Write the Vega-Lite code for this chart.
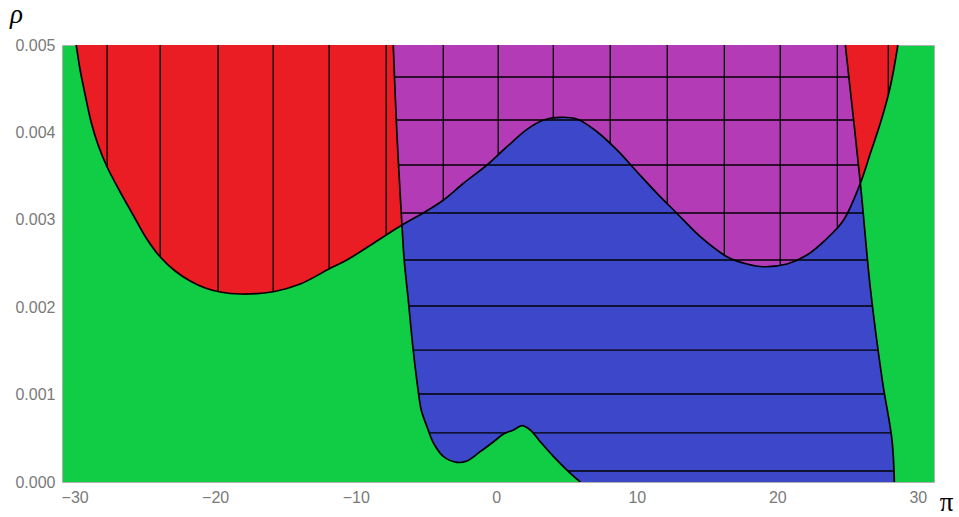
{
  "$schema": "https://vega.github.io/schema/vega-lite/v6.json",
  "width": 872,
  "height": 437,
  "autosize": {"type": "none"},
  "padding": {"left": 62, "top": 45, "right": 25, "bottom": 35},
  "background": "white",
  "config": {
    "view": {"fill": "#10cd45", "stroke": "#b0b0b0", "strokeWidth": 1},
    "axisX": {"labelFont": "Liberation Sans", "labelFontSize": 16, "labelColor": "#7a7a7a", "labelPadding": 7, "ticks": false, "domain": false, "grid": false, "titleFont": "Liberation Serif", "titleFontSize": 27, "titleFontWeight": "normal", "titleColor": "#000000", "titleX": 884, "titleY": 28, "titleAlign": "center", "titleBaseline": "alphabetic", "titleAngle": 0},
    "axisY": {"labelFont": "Liberation Sans", "labelFontSize": 16, "labelColor": "#7a7a7a", "labelPadding": 7, "ticks": false, "domain": false, "grid": false, "titleFont": "Liberation Serif", "titleFontSize": 27, "titleFontStyle": "italic", "titleFontWeight": "normal", "titleColor": "#000000", "titleX": -46, "titleY": -23, "titleAlign": "center", "titleBaseline": "alphabetic", "titleAngle": 0}
  },
  "datasets": {
    "hcurve": [
      {"x": -29.89, "rho": 0.005}, {"x": -29.61, "rho": 0.004714}, {"x": -29.25, "rho": 0.004428}, {"x": -28.83, "rho": 0.004119},
      {"x": -28.33, "rho": 0.003856}, {"x": -27.69, "rho": 0.003604}, {"x": -26.76, "rho": 0.003318}, {"x": -25.84, "rho": 0.003055},
      {"x": -24.91, "rho": 0.002792}, {"x": -23.91, "rho": 0.002574}, {"x": -22.85, "rho": 0.002414}, {"x": -21.78, "rho": 0.0023},
      {"x": -20.71, "rho": 0.00222}, {"x": -19.64, "rho": 0.002174}, {"x": -18.22, "rho": 0.002151}, {"x": -15.85, "rho": 0.002177},
      {"x": -13.95, "rho": 0.002265}, {"x": -11.81, "rho": 0.002445}, {"x": -10.63, "rho": 0.00254}, {"x": -8.7, "rho": 0.002735},
      {"x": -6.71, "rho": 0.002941}, {"x": -5.17, "rho": 0.003081}, {"x": -3.75, "rho": 0.003227},
      {"x": -2.33, "rho": 0.003418}, {"x": -0.66, "rho": 0.003627}, {"x": 0.76, "rho": 0.003836}, {"x": 2.19, "rho": 0.004035},
      {"x": 3.37, "rho": 0.004142}, {"x": 4.56, "rho": 0.004173}, {"x": 5.74, "rho": 0.004153}, {"x": 7.17, "rho": 0.004008},
      {"x": 8.59, "rho": 0.003799}, {"x": 10.01, "rho": 0.00355}, {"x": 11.44, "rho": 0.003303}, {"x": 12.86, "rho": 0.003074},
      {"x": 14.52, "rho": 0.002807}, {"x": 16.42, "rho": 0.002578}, {"x": 17.84, "rho": 0.002494}, {"x": 19.02, "rho": 0.002463},
      {"x": 20.69, "rho": 0.002494}, {"x": 22.11, "rho": 0.002597}, {"x": 23.54, "rho": 0.002788}, {"x": 24.72, "rho": 0.002998},
      {"x": 25.91, "rho": 0.003418}, {"x": 26.62, "rho": 0.003761}, {"x": 27.33, "rho": 0.004104}, {"x": 28.04, "rho": 0.004523},
      {"x": 28.58, "rho": 0.005}
    ],
    "leftb": [
      {"i": 1, "x": -7.33, "rho": 0.005}, {"i": 2, "x": -7.07, "rho": 0.00399}, {"i": 3, "x": -6.71, "rho": 0.002941},
      {"i": 4, "x": -6.55, "rho": 0.00254}, {"i": 5, "x": -6.26, "rho": 0.002082}, {"i": 6, "x": -5.91, "rho": 0.00151},
      {"i": 7, "x": -5.53, "rho": 0.001015}, {"i": 8, "x": -5.34, "rho": 0.000824}, {"i": 9, "x": -4.93, "rho": 0.000633},
      {"i": 10, "x": -4.46, "rho": 0.000443}, {"i": 11, "x": -3.75, "rho": 0.00029}, {"i": 12, "x": -2.8, "rho": 0.000225},
      {"i": 13, "x": -2.09, "rho": 0.00024}, {"i": 14, "x": -1.14, "rho": 0.000347}, {"i": 15, "x": -0.19, "rho": 0.000461},
      {"i": 16, "x": 0.52, "rho": 0.000549}, {"i": 17, "x": 1.23, "rho": 0.000595}, {"i": 18, "x": 1.83, "rho": 0.000645},
      {"i": 19, "x": 2.42, "rho": 0.000595}, {"i": 20, "x": 3.13, "rho": 0.000461}, {"i": 21, "x": 4.08, "rho": 0.00029},
      {"i": 22, "x": 5.03, "rho": 0.000137}, {"i": 23, "x": 5.98, "rho": 0}
    ],
    "rightb": [
      {"i": 1, "x": 24.84, "rho": 0.005}, {"i": 2, "x": 25.91, "rho": 0.003418}, {"i": 3, "x": 26.62, "rho": 0.00222},
      {"i": 4, "x": 27.47, "rho": 0.001167}, {"i": 5, "x": 28.16, "rho": 0.000481}, {"i": 6, "x": 28.33, "rho": 0}
    ],
    "bluepoly": [
      {"i": 1, "x": -7.33, "rho": 0.005}, {"i": 2, "x": -7.07, "rho": 0.00399}, {"i": 3, "x": -6.71, "rho": 0.002941},
      {"i": 4, "x": -6.55, "rho": 0.00254}, {"i": 5, "x": -6.26, "rho": 0.002082}, {"i": 6, "x": -5.91, "rho": 0.00151},
      {"i": 7, "x": -5.53, "rho": 0.001015}, {"i": 8, "x": -5.34, "rho": 0.000824}, {"i": 9, "x": -4.93, "rho": 0.000633},
      {"i": 10, "x": -4.46, "rho": 0.000443}, {"i": 11, "x": -3.75, "rho": 0.00029}, {"i": 12, "x": -2.8, "rho": 0.000225},
      {"i": 13, "x": -2.09, "rho": 0.00024}, {"i": 14, "x": -1.14, "rho": 0.000347}, {"i": 15, "x": -0.19, "rho": 0.000461},
      {"i": 16, "x": 0.52, "rho": 0.000549}, {"i": 17, "x": 1.23, "rho": 0.000595}, {"i": 18, "x": 1.83, "rho": 0.000645},
      {"i": 19, "x": 2.42, "rho": 0.000595}, {"i": 20, "x": 3.13, "rho": 0.000461}, {"i": 21, "x": 4.08, "rho": 0.00029},
      {"i": 22, "x": 5.03, "rho": 0.000137}, {"i": 23, "x": 5.98, "rho": 0}, {"i": 24, "x": 28.33, "rho": 0},
      {"i": 25, "x": 28.16, "rho": 0.000481}, {"i": 26, "x": 27.47, "rho": 0.001167}, {"i": 27, "x": 26.62, "rho": 0.00222},
      {"i": 28, "x": 25.91, "rho": 0.003418}, {"i": 29, "x": 24.84, "rho": 0.005}
    ],
    "purplepoly": [
      {"i": 1, "x": -7.33, "rho": 0.005}, {"i": 2, "x": -7.07, "rho": 0.00399}, {"i": 3, "x": -6.71, "rho": 0.002941},
      {"i": 4, "x": -5.17, "rho": 0.003081}, {"i": 5, "x": -3.75, "rho": 0.003227}, {"i": 6, "x": -2.33, "rho": 0.003418},
      {"i": 7, "x": -0.66, "rho": 0.003627}, {"i": 8, "x": 0.76, "rho": 0.003836}, {"i": 9, "x": 2.19, "rho": 0.004035},
      {"i": 10, "x": 3.37, "rho": 0.004142}, {"i": 11, "x": 4.56, "rho": 0.004173}, {"i": 12, "x": 5.74, "rho": 0.004153},
      {"i": 13, "x": 7.17, "rho": 0.004008}, {"i": 14, "x": 8.59, "rho": 0.003799}, {"i": 15, "x": 10.01, "rho": 0.00355},
      {"i": 16, "x": 11.44, "rho": 0.003303}, {"i": 17, "x": 12.86, "rho": 0.003074}, {"i": 18, "x": 14.52, "rho": 0.002807},
      {"i": 19, "x": 16.42, "rho": 0.002578}, {"i": 20, "x": 17.84, "rho": 0.002494}, {"i": 21, "x": 19.02, "rho": 0.002463},
      {"i": 22, "x": 20.69, "rho": 0.002494}, {"i": 23, "x": 22.11, "rho": 0.002597}, {"i": 24, "x": 23.54, "rho": 0.002788},
      {"i": 25, "x": 24.72, "rho": 0.002998}, {"i": 26, "x": 25.91, "rho": 0.003418}, {"i": 27, "x": 24.84, "rho": 0.005}
    ],
    "vmesh": [
      {"x": -27.69, "rho": 0.003604}, {"x": -23.91, "rho": 0.002574}, {"x": -19.79, "rho": 0.00218}, {"x": -15.87, "rho": 0.002177},
      {"x": -11.89, "rho": 0.002438}, {"x": -7.83, "rho": 0.002826}, {"x": -3.77, "rho": 0.003225}, {"x": 0.14, "rho": 0.003745},
      {"x": 4.06, "rho": 0.00416}, {"x": 8.11, "rho": 0.00387}, {"x": 12.17, "rho": 0.003185}, {"x": 16.23, "rho": 0.0026},
      {"x": 20.21, "rho": 0.002485}, {"x": 24.27, "rho": 0.002918}, {"x": 27.9, "rho": 0.00444}
    ],
    "hmesh": [
      {"rho": 0.004634, "x": -7.24, "x1": 25.09}, {"rho": 0.004142, "x": -7.11, "x1": 25.42},
      {"rho": 0.003627, "x": -6.95, "x1": 25.77}, {"rho": 0.003078, "x": -6.76, "x1": 26.11},
      {"rho": 0.00254, "x": -6.55, "x1": 26.43}, {"rho": 0.002014, "x": -6.22, "x1": 26.79},
      {"rho": 0.00151, "x": -5.91, "x1": 27.19}, {"rho": 0.001007, "x": -5.52, "x1": 27.63},
      {"rho": 0.000561, "x": -4.75, "x1": 0.76}, {"rho": 0.000561, "x": 2.6, "x1": 28.08},
      {"rho": 0.000126, "x": 5.11, "x1": 28.29}
    ]
  },
  "layer": [
    {
      "data": {"name": "hcurve"},
      "mark": {"type": "area", "color": "#ea1d25", "interpolate": "catmull-rom", "clip": true},
      "encoding": {
        "x": {"field": "x", "type": "quantitative", "title": "π", "scale": {"domain": [-30.9, 31.15], "nice": false, "zero": false}, "axis": {"values": [-30, -20, -10, 0, 10, 20, 30]}},
        "y": {"field": "rho", "type": "quantitative", "title": "ρ", "scale": {"domain": [0, 0.005], "nice": false}, "axis": {"values": [0, 0.001, 0.002, 0.003, 0.004, 0.005], "format": ".3f"}},
        "y2": {"datum": 0.005}
      }
    },
    {
      "data": {"name": "bluepoly"},
      "mark": {"type": "line", "filled": true, "color": "#3c47c9", "interpolate": "linear", "clip": true},
      "encoding": {
        "x": {"field": "x", "type": "quantitative", "title": "π", "scale": {"domain": [-30.9, 31.15], "nice": false, "zero": false}, "axis": {"values": [-30, -20, -10, 0, 10, 20, 30]}},
        "y": {"field": "rho", "type": "quantitative", "title": "ρ", "scale": {"domain": [0, 0.005], "nice": false}, "axis": {"values": [0, 0.001, 0.002, 0.003, 0.004, 0.005], "format": ".3f"}},
        "order": {"field": "i", "type": "quantitative"}
      }
    },
    {
      "data": {"name": "purplepoly"},
      "mark": {"type": "line", "filled": true, "color": "#b33bb5", "interpolate": "linear", "clip": true},
      "encoding": {
        "x": {"field": "x", "type": "quantitative", "title": "π", "scale": {"domain": [-30.9, 31.15], "nice": false, "zero": false}, "axis": {"values": [-30, -20, -10, 0, 10, 20, 30]}},
        "y": {"field": "rho", "type": "quantitative", "title": "ρ", "scale": {"domain": [0, 0.005], "nice": false}, "axis": {"values": [0, 0.001, 0.002, 0.003, 0.004, 0.005], "format": ".3f"}},
        "order": {"field": "i", "type": "quantitative"}
      }
    },
    {
      "data": {"name": "vmesh"},
      "mark": {"type": "rule", "color": "#000000", "strokeWidth": 1.3, "clip": true},
      "encoding": {
        "x": {"field": "x", "type": "quantitative", "title": "π", "scale": {"domain": [-30.9, 31.15], "nice": false, "zero": false}, "axis": {"values": [-30, -20, -10, 0, 10, 20, 30]}},
        "y": {"field": "rho", "type": "quantitative", "title": "ρ", "scale": {"domain": [0, 0.005], "nice": false}, "axis": {"values": [0, 0.001, 0.002, 0.003, 0.004, 0.005], "format": ".3f"}},
        "y2": {"datum": 0.005}
      }
    },
    {
      "data": {"name": "hmesh"},
      "mark": {"type": "rule", "color": "#000000", "strokeWidth": 1.3, "clip": true},
      "encoding": {
        "x": {"field": "x", "type": "quantitative", "title": "π", "scale": {"domain": [-30.9, 31.15], "nice": false, "zero": false}, "axis": {"values": [-30, -20, -10, 0, 10, 20, 30]}},
        "x2": {"field": "x1"},
        "y": {"field": "rho", "type": "quantitative", "title": "ρ", "scale": {"domain": [0, 0.005], "nice": false}, "axis": {"values": [0, 0.001, 0.002, 0.003, 0.004, 0.005], "format": ".3f"}}
      }
    },
    {
      "data": {"name": "hcurve"},
      "mark": {"type": "line", "color": "#000000", "strokeWidth": 1.7, "interpolate": "catmull-rom", "clip": true},
      "encoding": {
        "x": {"field": "x", "type": "quantitative", "title": "π", "scale": {"domain": [-30.9, 31.15], "nice": false, "zero": false}, "axis": {"values": [-30, -20, -10, 0, 10, 20, 30]}},
        "y": {"field": "rho", "type": "quantitative", "title": "ρ", "scale": {"domain": [0, 0.005], "nice": false}, "axis": {"values": [0, 0.001, 0.002, 0.003, 0.004, 0.005], "format": ".3f"}}
      }
    },
    {
      "data": {"name": "leftb"},
      "mark": {"type": "line", "color": "#000000", "strokeWidth": 1.7, "interpolate": "catmull-rom", "clip": true},
      "encoding": {
        "x": {"field": "x", "type": "quantitative", "title": "π", "scale": {"domain": [-30.9, 31.15], "nice": false, "zero": false}, "axis": {"values": [-30, -20, -10, 0, 10, 20, 30]}},
        "y": {"field": "rho", "type": "quantitative", "title": "ρ", "scale": {"domain": [0, 0.005], "nice": false}, "axis": {"values": [0, 0.001, 0.002, 0.003, 0.004, 0.005], "format": ".3f"}},
        "order": {"field": "i", "type": "quantitative"}
      }
    },
    {
      "data": {"name": "rightb"},
      "mark": {"type": "line", "color": "#000000", "strokeWidth": 1.7, "interpolate": "catmull-rom", "clip": true},
      "encoding": {
        "x": {"field": "x", "type": "quantitative", "title": "π", "scale": {"domain": [-30.9, 31.15], "nice": false, "zero": false}, "axis": {"values": [-30, -20, -10, 0, 10, 20, 30]}},
        "y": {"field": "rho", "type": "quantitative", "title": "ρ", "scale": {"domain": [0, 0.005], "nice": false}, "axis": {"values": [0, 0.001, 0.002, 0.003, 0.004, 0.005], "format": ".3f"}},
        "order": {"field": "i", "type": "quantitative"}
      }
    }
  ]
}
